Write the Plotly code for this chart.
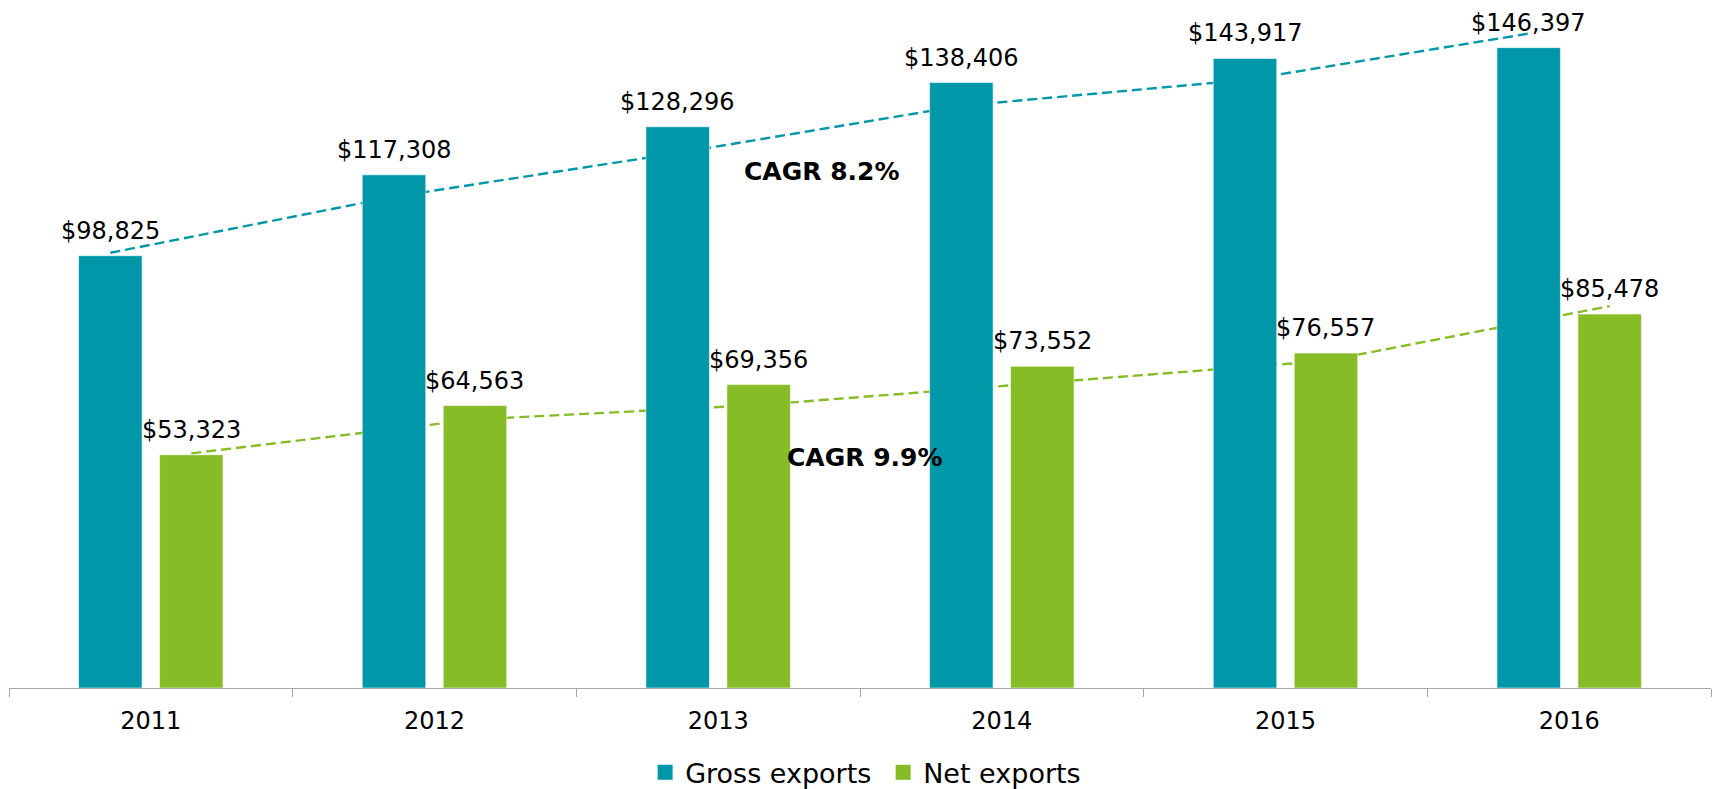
import plotly.graph_objects as go

# ---- data ----
years = ["2011", "2012", "2013", "2014", "2015", "2016"]
gross = [98825, 117308, 128296, 138406, 143917, 146397]
net = [53323, 64563, 69356, 73552, 76557, 85478]
# dashed trend lines
gross_trend = [99500, 112300, 122300, 133100, 139000, 149600]
net_trend = [53650, 61400, 64700, 69800, 74800, 87300]
series_names = ["Gross exports", "Net exports"]
cagr_text = ["CAGR 8.2%", "CAGR 9.9%"]

# ---- style ----
TEAL = "#0097A9"
GREEN = "#86BC25"
FONT = "DejaVu Sans"
BARGAP = 0.429
GROUPGAP = 0.216
YMAX = 155000
off = (1 - BARGAP) / 4  # half slot, category units
idx = list(range(len(years)))

fig = go.Figure()

# trend lines on the base axes (drawn beneath bars)
for trend, col, sgn in [(gross_trend, TEAL, -1), (net_trend, GREEN, 1)]:
    fig.add_trace(go.Scatter(
        x=[i + sgn * off for i in idx], y=trend, mode="lines",
        line=dict(color=col, width=2.4, dash="10px,5px"),
        xaxis="x", yaxis="y", showlegend=False, hoverinfo="skip"))

# bars on overlaying axes
for vals, col, nm in [(gross, TEAL, series_names[0]), (net, GREEN, series_names[1])]:
    fig.add_trace(go.Bar(
        x=years, y=vals, name=nm,
        marker=dict(color=col, line=dict(color="rgba(255,255,255,0.55)", width=1)),
        xaxis="x2", yaxis="y2", showlegend=False, hoverinfo="skip"))

# legend entries
for col, nm in [(TEAL, series_names[0]), (GREEN, series_names[1])]:
    fig.add_trace(go.Scatter(
        x=[None], y=[None], mode="markers", name=nm,
        marker=dict(symbol="square", size=15, color=col),
        xaxis="x", yaxis="y"))

annotations = []
for vals, sgn in [(gross, -1), (net, 1)]:
    for i, v in zip(idx, vals):
        annotations.append(dict(
            x=i + sgn * off, y=v, xref="x", yref="y",
            text=f"${v:,}", showarrow=False, yanchor="bottom", yshift=9,
            font=dict(family=FONT, size=24, color="#000000")))

annotations.append(dict(x=2.365, y=118100, xref="x", yref="y", text=f"<b>{cagr_text[0]}</b>",
                        showarrow=False, font=dict(family=FONT, size=25, color="#000000")))
annotations.append(dict(x=2.517, y=52800, xref="x", yref="y", text=f"<b>{cagr_text[1]}</b>",
                        showarrow=False, font=dict(family=FONT, size=25, color="#000000")))

fig.update_layout(
    width=1717, height=789,
    margin=dict(l=9, r=6, t=10, b=101, autoexpand=False),
    paper_bgcolor="white", plot_bgcolor="white",
    font=dict(family=FONT, color="#000000"),
    barmode="group", bargap=BARGAP, bargroupgap=GROUPGAP,
    xaxis=dict(range=[-0.5, 5.5], visible=False, fixedrange=True),
    yaxis=dict(range=[0, YMAX], visible=False, fixedrange=True),
    xaxis2=dict(overlaying="x", anchor="y2", type="category", range=[-0.5, 5.5],
                tickson="boundaries", ticks="outside", ticklen=8, tickcolor="#a6a6a6",
                showline=True, linecolor="#a6a6a6", linewidth=1, showgrid=False,
                ticklabelstandoff=11,
                tickfont=dict(family=FONT, size=24, color="#000000"), fixedrange=True),
    yaxis2=dict(overlaying="y", anchor="x2", range=[0, YMAX], visible=False, fixedrange=True),
    showlegend=True,
    legend=dict(orientation="h", x=0.5136, xanchor="center", y=-0.125, yanchor="middle",
                font=dict(family=FONT, size=27, color="#000000"), itemwidth=30,
                entrywidth=193, bgcolor="rgba(0,0,0,0)"),
    annotations=annotations,
    hovermode=False,
)

fig.write_html("out.html", config={"displayModeBar": False},
               post_script="document.body.style.margin='0';document.body.style.overflow='hidden';")
